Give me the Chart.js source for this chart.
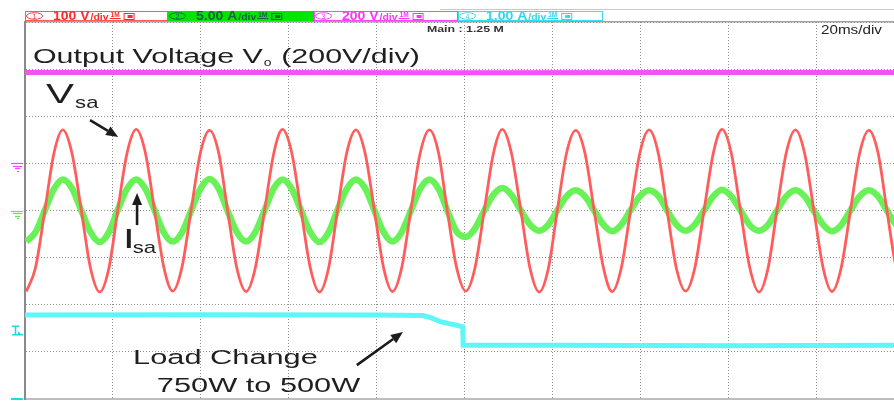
<!DOCTYPE html>
<html>
<head>
<meta charset="utf-8">
<title>Load step: Vo, Vsa, Isa, Io</title>
<script src="https://cdn.jsdelivr.net/npm/chart.js@4/dist/chart.umd.min.js"></script>
<style>
  html, body { margin: 0; padding: 0; background: #fff; overflow: hidden; }
  #wrap { position: absolute; left: 0; top: 0; width: 910px; height: 401px; }
</style>
</head>
<body>
<div id="wrap"><canvas id="scope" width="910" height="401"></canvas></div>
<script>
// ---- acquisition: time in ms relative to the trigger (screen centre) ----
const sampleTimes = [
  -99.7, -97.6, -95.5, -93.4, -91.4, -89.3, -87.2, -85.1,
  -83.0, -80.9, -78.9, -76.8, -74.7, -72.6, -70.5, -68.4,
  -66.4, -64.3, -62.2, -60.1, -58.0, -55.9, -53.9, -51.8,
  -49.7, -47.6, -45.5, -43.4, -41.4, -39.3, -37.2, -35.1,
  -33.0, -30.9, -28.9, -26.8, -24.7, -22.6, -20.5, -18.4,
  -16.4, -14.3, -12.2, -10.1, -8.0, -5.9, -3.9, -1.8,
  0.3, 2.4, 4.5, 6.6, 8.6, 10.7, 12.8, 14.9,
  17.0, 19.1, 21.1, 23.2, 25.3, 27.4, 29.5, 31.6,
  33.6, 35.7, 37.8, 39.9, 42.0, 44.1, 46.1, 48.2,
  50.3, 52.4, 54.5, 56.6, 58.6, 60.7, 62.8, 64.9,
  67.0, 69.1, 71.1, 73.2, 75.3, 77.4, 79.5, 81.6,
  83.6, 85.7, 87.8, 89.9, 92.0, 94.1, 96.1, 98.2,
  100.3
];

// CH1: grid voltage Vsa (V)
const vsaVolts = [
  -172, -121, -1, 122, 171, 121, 1, -122,
  -173, -122, 0, 121, 172, 122, -1, -121,
  -171, -121, 1, 122, 170, 121, 0, -122,
  -172, -122, -1, 121, 172, 122, 1, -121,
  -173, -121, 0, 122, 171, 121, 0, -122,
  -172, -122, 1, 121, 171, 122, -1, -121,
  -171, -121, 0, 122, 172, 121, 1, -122,
  -173, -122, -1, 121, 170, 122, 0, -121,
  -172, -121, 1, 122, 171, 121, 0, -122,
  -171, -122, 0, 121, 172, 122, -1, -121,
  -173, -121, 1, 122, 171, 121, 0, -122,
  -172, -122, -1, 121, 170, 122, 1, -121,
  -172
];

// CH2: grid current Isa (A)
const isaAmps = [
  -3.3, -2.3, 0.0, 2.3, 3.3, 2.35, 0.0, -2.3,
  -3.35, -2.3, 0.05, 2.3, 3.3, 2.3, 0.0, -2.35,
  -3.3, -2.35, 0.0, 2.3, 3.35, 2.3, -0.05, -2.3,
  -3.3, -2.3, 0.0, 2.35, 3.3, 2.3, 0.0, -2.3,
  -3.35, -2.3, 0.05, 2.3, 3.3, 2.35, 0.0, -2.3,
  -3.3, -2.3, 0.0, 2.3, 3.3, 2.3, 0.0, -2.25,
  -2.8, -1.9, 0.0, 1.7, 2.4, 1.65, 0.0, -1.5,
  -2.15, -1.5, 0.0, 1.5, 2.15, 1.5, 0.0, -1.5,
  -2.2, -1.5, 0.05, 1.5, 2.15, 1.55, 0.0, -1.5,
  -2.15, -1.5, 0.0, 1.5, 2.2, 1.5, 0.0, -1.55,
  -2.15, -1.5, 0.0, 1.5, 2.15, 1.5, -0.05, -1.5,
  -2.2, -1.55, 0.0, 1.5, 2.15, 1.5, 0.0, -1.5,
  -2.15
];

// CH3: DC output voltage Vo (V)
const voTimes = [-100, -50, 0, 50, 100];
const voVolts = [386, 386, 385, 386, 386];

// CH4: load current Io (A), 750 W -> 500 W step at the trigger
const ioTimes = [-100, -60, -20, -9.5, -7.5, -5.5, -3.5, -1.5, -0.4, -0.3, 20, 60, 100];
const ioAmps  = [1.78, 1.79, 1.78, 1.77, 1.72, 1.64, 1.60, 1.56, 1.53, 1.14, 1.14, 1.13, 1.14];

// ---- scope settings ----
const channelIds    = ['1', '2', '3', '4'];
const channelLabels = ['100 V', '5.00 A', '200 V', '1.00 A'];
const unitsPerDiv   = [100, 5, 200, 1];
const groundDiv     = [0, 0, 1, -4];     // ground reference, divisions from centre
const triggerLevelA = 1.46;              // CH4 trigger level
const timeSpan      = [-100, 100];       // 10 div x 20 ms
const divSpan       = [-4, 4];

const FONT = '"Liberation Sans", Arial, Helvetica, sans-serif';

function toDiv(ch, v) { return v / unitsPerDiv[ch] + groundDiv[ch]; }
function trace(ch, times, values) {
  return times.map((t, i) => ({ x: t, y: toDiv(ch, values[i]) }));
}

function stretchText(ctx, str, x, y, size, color, sx, weight) {
  ctx.save();
  ctx.font = (weight || 'normal') + ' ' + size + 'px ' + FONT;
  ctx.fillStyle = color;
  ctx.textBaseline = 'alphabetic';
  ctx.translate(x, y);
  ctx.scale(sx, 1);
  ctx.fillText(str, 0, 0);
  const w = ctx.measureText(str).width * sx;
  ctx.restore();
  return w;
}

function arrow(ctx, x0, y0, x1, y1) {
  const a = Math.atan2(y1 - y0, x1 - x0);
  const len = 12, half = 5;
  const bx = x1 - len * Math.cos(a), by = y1 - len * Math.sin(a);
  ctx.save();
  ctx.strokeStyle = '#1c1c1c';
  ctx.fillStyle = '#1c1c1c';
  ctx.lineWidth = 2.6;
  ctx.beginPath();
  ctx.moveTo(x0, y0);
  ctx.lineTo(bx, by);
  ctx.stroke();
  ctx.beginPath();
  ctx.moveTo(x1, y1);
  ctx.lineTo(bx + half * Math.sin(a), by - half * Math.cos(a));
  ctx.lineTo(bx - half * Math.sin(a), by + half * Math.cos(a));
  ctx.closePath();
  ctx.fill();
  ctx.restore();
}

function groundMark(ctx, y, color) {
  ctx.save();
  ctx.strokeStyle = color;
  ctx.lineWidth = 1.2;
  const rows = [[11, 23, 0], [13, 22, 2.5], [15, 20, 5], [17, 19, 7.5]];
  rows.forEach(r => {
    ctx.beginPath();
    ctx.moveTo(r[0], Math.round(y + r[2]) + 0.5);
    ctx.lineTo(r[1], Math.round(y + r[2]) + 0.5);
    ctx.stroke();
  });
  ctx.restore();
}

// channel readouts, labels, arrows and reference markers
const scopeDecor = {
  id: 'scopeDecor',
  afterDraw(chart) {
    const ctx = chart.ctx;
    const xs = chart.scales.x, ys = chart.scales.y;
    const px = t => xs.getPixelForValue(t);
    const py = d => ys.getPixelForValue(d);

    // header rule
    ctx.save();
    ctx.strokeStyle = '#c8c8c8';
    ctx.lineWidth = 1;
    ctx.beginPath(); ctx.moveTo(440, 9.5); ctx.lineTo(910, 9.5); ctx.stroke();
    ctx.restore();

    // channel readout boxes
    const boxX = [25, 168, 314, 458];
    const boxW = [143, 146, 144, 145];
    const fills = ['#ffffff', '#00e600', '#ffffff', '#ffffff'];
    const edges = ['#ff5a5a', '#00e600', '#ff44ff', '#33e0f0'];
    const inks  = ['#ff2a2a', '#1d5a4a', '#ff33ff', '#30d6ee'];
    for (let i = 0; i < 4; i++) {
      const x = boxX[i];
      ctx.save();
      ctx.fillStyle = fills[i];
      ctx.fillRect(x, 11, boxW[i], 10);
      ctx.strokeStyle = edges[i];
      ctx.lineWidth = 1;
      ctx.strokeRect(x + 0.5, 11.5, boxW[i] - 1, 9);
      // channel badge
      ctx.strokeStyle = inks[i];
      ctx.lineWidth = 0.9;
      ctx.beginPath();
      ctx.ellipse(x + 9.5, 16, 8, 3.3, 0, 0, Math.PI * 2);
      ctx.stroke();
      ctx.fillStyle = inks[i];
      ctx.font = '7px ' + FONT;
      ctx.textAlign = 'center';
      ctx.fillText(channelIds[i], x + 9.5, 18.6);
      ctx.restore();
      let cx = x + 28;
      cx += stretchText(ctx, channelLabels[i], cx, 20.3, 12.5, inks[i], 1.12, 'bold');
      cx += stretchText(ctx, '/div', cx + 1, 20.3, 9.5, inks[i], 1.1, 'bold') + 2;
      // coupling / impedance icons
      stretchText(ctx, '1M', cx + 1, 17, 6.5, inks[i], 1.0, 'bold');
      ctx.save();
      ctx.strokeStyle = inks[i];
      ctx.lineWidth = 1;
      ctx.beginPath(); ctx.moveTo(cx, 18.5); ctx.lineTo(cx + 11, 18.5); ctx.stroke();
      ctx.strokeRect(cx + 14.5, 13.5, 10, 6);
      ctx.fillStyle = inks[i];
      ctx.fillRect(cx + 18, 15, 5, 3);
      ctx.restore();
    }

    // timebase readouts
    stretchText(ctx, 'Main : 1.25 M', 427, 31.5, 8.5, '#333333', 1.45, 'bold');
    stretchText(ctx, '20ms/div', 821, 34, 13, '#222222', 1.17);

    // reference markers on the left margin
    groundMark(ctx, py(groundDiv[2]), '#ff44ff');
    groundMark(ctx, py(groundDiv[1]), '#55ee44');
    const ty = py(toDiv(3, triggerLevelA));
    ctx.save();
    ctx.strokeStyle = '#22d8e8';
    ctx.fillStyle = '#22d8e8';
    ctx.lineWidth = 1.6;
    ctx.beginPath();
    ctx.moveTo(12, ty - 4); ctx.lineTo(19, ty - 4);
    ctx.moveTo(15.5, ty - 4); ctx.lineTo(15.5, ty + 4);
    ctx.moveTo(12, ty + 4.5); ctx.lineTo(23, ty + 4.5);
    ctx.stroke();
    ctx.beginPath();
    ctx.moveTo(18, ty + 1); ctx.lineTo(22, ty + 4.5); ctx.lineTo(18, ty + 4.5); ctx.closePath();
    ctx.fill();
    ctx.lineWidth = 2;
    const gy = py(groundDiv[3]);
    ctx.beginPath(); ctx.moveTo(11, gy); ctx.lineTo(23, gy); ctx.stroke();
    ctx.restore();

    // signal labels
    const ink = '#1f1f1f';
    let lx = px(-98.2), ly = py(3.12);
    let w = stretchText(ctx, 'Output Voltage V', lx, ly, 20, ink, 1.52);
    stretchText(ctx, 'o', lx + w + 1, ly + 2.5, 10, ink, 1.4);
    stretchText(ctx, ' (200V/div)', lx + w + 10, ly, 20, ink, 1.52);

    lx = px(-95.2); ly = py(2.29);
    w = stretchText(ctx, 'V', lx, ly, 28, ink, 1.5);
    stretchText(ctx, 'sa', lx + w + 1, ly + 5, 17, ink, 1.3);

    lx = px(-77.7); ly = py(-0.80);
    w = stretchText(ctx, 'I', lx, ly, 28, ink, 1.5);
    stretchText(ctx, 'sa', lx + w - 2, ly + 5, 17, ink, 1.3);

    stretchText(ctx, 'Load Change', px(-75.4), py(-3.26), 20.5, ink, 1.5);
    stretchText(ctx, '750W to 500W', px(-70.0), py(-3.85), 20.5, ink, 1.5);

    arrow(ctx, px(-85.2), py(1.92), px(-78.8), py(1.56));
    arrow(ctx, px(-74.5), py(-0.31), px(-74.5), py(0.37));
    arrow(ctx, px(-24.5), py(-3.28), px(-14.0), py(-2.58));
  }
};

const gridColor = '#8e8e8e';

new Chart(document.getElementById('scope'), {
  type: 'line',
  data: {
    datasets: [
      {
        label: 'Vsa', data: trace(0, sampleTimes, vsaVolts),
        borderColor: '#ff5c5c', borderWidth: 2.8,
        cubicInterpolationMode: 'monotone', order: 1
      },
      {
        label: 'Isa', data: trace(1, sampleTimes, isaAmps),
        borderColor: '#68f258', borderWidth: 6.5,
        cubicInterpolationMode: 'monotone', order: 2
      },
      {
        label: 'Vo', data: trace(2, voTimes, voVolts),
        borderColor: '#f452f4', borderWidth: 5, tension: 0, order: 3
      },
      {
        label: 'Io', data: trace(3, ioTimes, ioAmps),
        borderColor: '#5ef6f6', borderWidth: 5, tension: 0, order: 4
      }
    ]
  },
  options: {
    responsive: false,
    animation: false,
    devicePixelRatio: 1,
    events: [],
    layout: { padding: { left: 25, right: 6, top: 22, bottom: 2 } },
    elements: { point: { radius: 0 }, line: { capBezierPoints: true } },
    plugins: { legend: { display: false }, tooltip: { enabled: false } },
    scales: {
      x: {
        type: 'linear', position: 'bottom',
        min: timeSpan[0], max: timeSpan[1],
        ticks: { display: false, stepSize: 20 },
        grid: { color: gridColor, lineWidth: 1, drawTicks: false },
        border: { display: true, color: '#bdbdbd', width: 2, dash: [1, 2] }
      },
      xTop: {
        type: 'linear', position: 'top',
        min: timeSpan[0], max: timeSpan[1],
        ticks: { display: false },
        grid: { display: false, drawTicks: false },
        border: { display: true, color: '#a0a0a0', width: 1.5 }
      },
      y: {
        type: 'linear', position: 'left',
        min: divSpan[0], max: divSpan[1],
        ticks: { display: false, stepSize: 1 },
        grid: { color: gridColor, lineWidth: 1, drawTicks: false },
        border: { display: true, color: '#8a8a8a', width: 2, dash: [1, 2] }
      }
    }
  },
  plugins: [scopeDecor]
});
</script>
</body>
</html>
